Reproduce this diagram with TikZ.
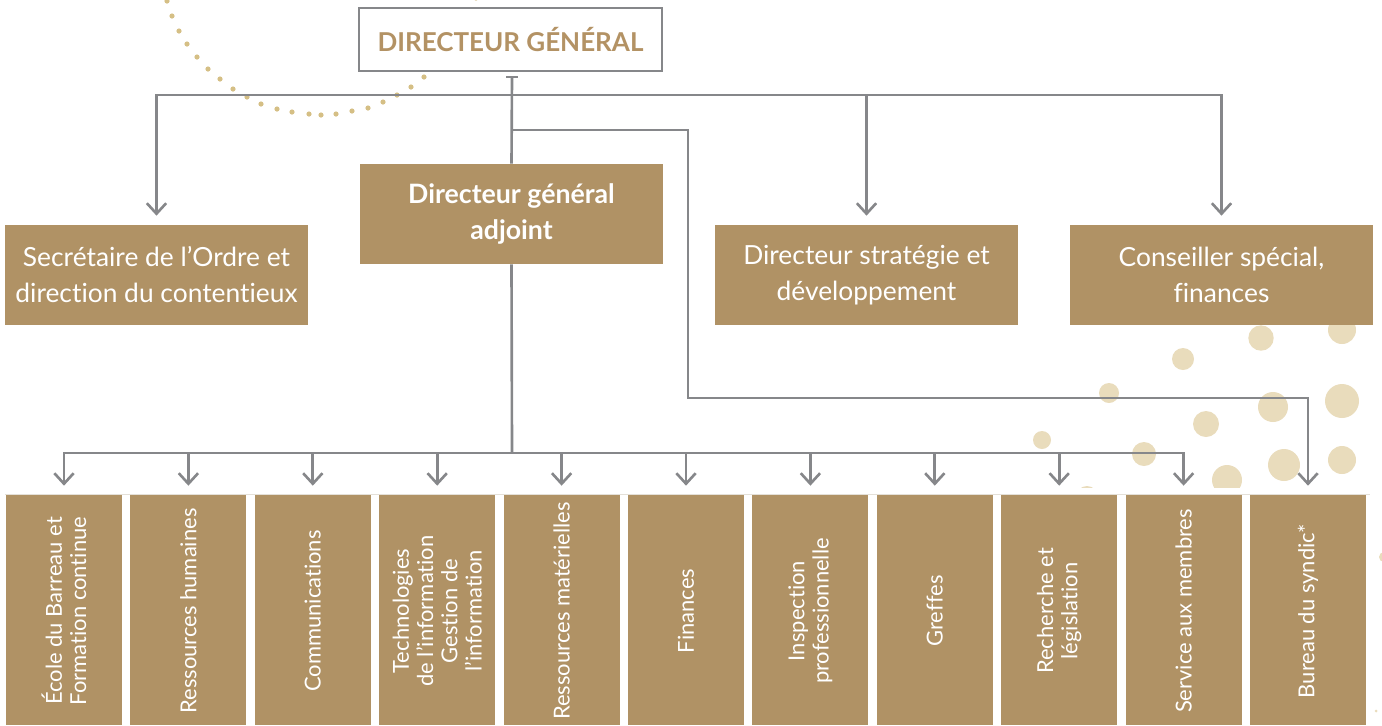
\documentclass[tikz,border=0pt]{standalone}
\usepackage{fontspec}
\setmainfont{Lato}[Ligatures={NoCommon,NoRare}]
\usetikzlibrary{arrows.meta}
\definecolor{gold}{HTML}{B09265}
\definecolor{dgtext}{HTML}{B39264}
\definecolor{linegray}{HTML}{86878A}
\definecolor{dotgold}{HTML}{D5BF85}
\definecolor{bubble}{HTML}{E9DCBC}
\definecolor{faint}{HTML}{E4E0D8}
\begin{document}
\begin{tikzpicture}[x=0.02cm,y=-0.02cm,
  toprow/.style={fill=gold,text=white,minimum width=6.06cm,minimum height=2cm,align=center,inner sep=0pt,font=\fontsize{15}{20.5}\selectfont},
  botbox/.style={fill=gold,minimum width=2.32cm,minimum height=4.6cm,inner sep=0pt},
  vtext/.style={rotate=90,text=white,align=center,inner sep=0pt,font=\fontsize{12.5}{13.8}\selectfont},
  conn/.style={draw=linegray,line width=1.5pt},
  arr/.style={conn,-{Straight Barb[length=6pt,width=11pt]},shorten >=0.18cm},
  dot/.style={fill=dotgold,draw=none},
  bub/.style={fill=bubble,draw=none}]
\useasboundingbox (0,0) rectangle (1382,725);
% bubbles
\begin{scope}
\clip (1000,300) rectangle (1382,487);
\foreach \x/\y/\r in {1261/338/12.7,1342/330/14,1183/359/11,1109/393/10,1273/407/15,1342/401/17,1206/424/13,1042/440/9,1144/454/12,1284/465/16,1342/460/14,1227/480/15,1087/497/11}
  \fill[bub] (\x,\y) circle (\r);
\end{scope}
\fill[bub] (1384,557) circle (5);
\fill[bub] (1376,711) circle (1.5);
% dotted arc
\foreach \x/\y in {167/1,172/16,179/31,187/44,197/57,208/69,220/79,233/89,247/97,261/104,277/109,292/112,309/114,321/115,336/114,352/111,368/108,383/102,397/95,411/87,424/77}
  \fill[dot] (\x,\y) circle (2.6);
\fill[dot] (476,-2) circle (2.6);
% nodes
\node[draw=linegray,line width=1.5pt,minimum width=6.06cm,minimum height=1.26cm,inner sep=0pt,text=dgtext,font=\fontsize{14.8}{17}\selectfont\bfseries] (dg) at (510.5,39.5) {DIRECTEUR GÉNÉRAL};
\node[toprow,font=\fontsize{15.2}{20.5}\selectfont\bfseries] (dga) at (511.5,214) {Directeur général\\adjoint};
\node[toprow] (sec) at (156.5,275) {Secrétaire de l’Ordre et\\direction du contentieux};
\node[toprow] (dir) at (866.5,275) {Directeur stratégie et\\développement};
\node[toprow] (cons) at (1221.5,275) {Conseiller spécial,\\finances};
% faint top line of bottom row
\draw[faint,line width=0.4pt] (5,494) -- (1370,494);
\foreach \i/\t in {1/{École du Barreau et\\Formation continue},2/{Ressources humaines},3/{Communications},4/{Technologies\\de l’information\\Gestion de\\l’information},5/{Ressources matérielles},6/{Finances},7/{Inspection\\professionnelle},8/{Greffes},9/{Recherche et\\législation},10/{Service aux membres},11/{Bureau du syndic*}}{
  \node[botbox] (b\i) at ({64+124.4*(\i-1)},610) {};
  \node[vtext] (b\i t) at ({64+124.4*(\i-1)},611) {\t};
}
% connectors
\coordinate (tb) at (512,77);
\coordinate (hub) at (512,95);
\coordinate (sy) at (512,130);
\coordinate (hub2) at (512,453);
\draw[conn] (506,77) -- (518,77);
\draw[conn] (tb) -- (dga.north);
\draw[arr] (hub) -| (sec.north);
\draw[arr] (hub) -| (dir.north);
\draw[arr] (hub) -| (cons.north);
\draw[arr] (sy) -- (688,130) -- (688,398) -| (b11.north);
\draw[conn] (dga.south) -- (hub2);
\foreach \i in {1,...,10}
  \draw[arr] (hub2) -| (b\i.north);
\end{tikzpicture}
\end{document}
